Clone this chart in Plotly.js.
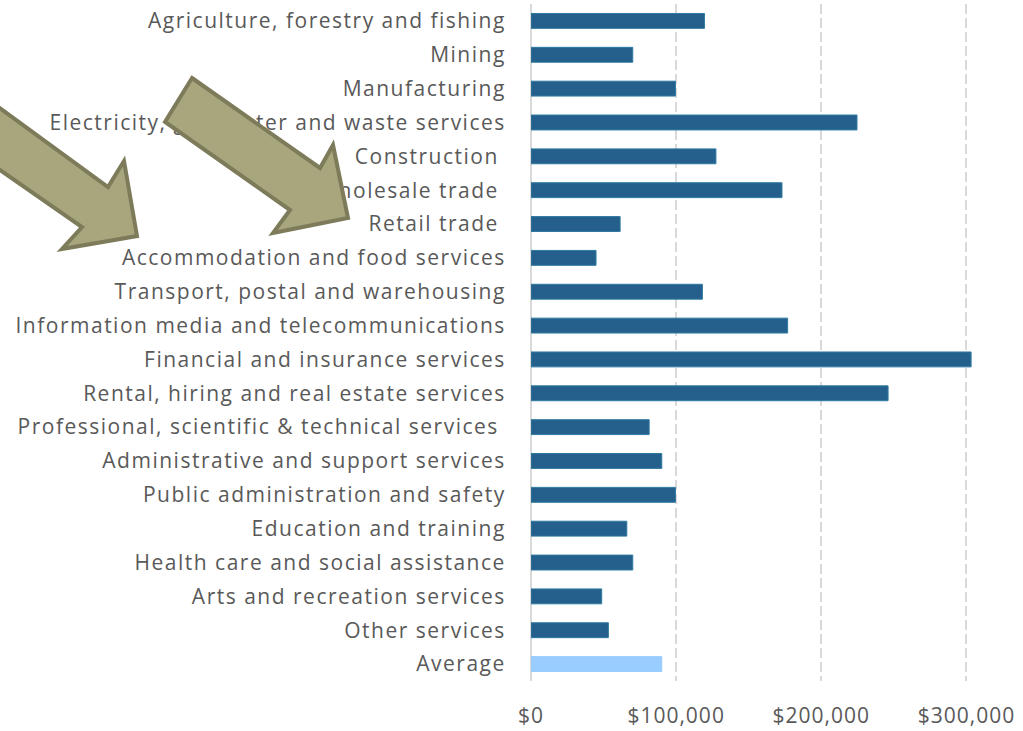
<!DOCTYPE html>
<html>
<head>
<meta charset="utf-8">
<script src="https://cdn.plot.ly/plotly-3.0.1.min.js"></script>
<style>
html,body{margin:0;padding:0;background:#fff}
#chart{width:1023px;height:731px}
#chart .ytick text{letter-spacing:1.5px}
#chart .xtick text{letter-spacing:1px}
</style>
</head>
<body>
<div id="chart"></div>
<script>
// Industry categories (top to bottom)
var industries = [
  "Agriculture, forestry and fishing",
  "Mining",
  "Manufacturing",
  "Electricity, gas, water and waste services",
  "Construction\u00a0",
  "Wholesale trade\u00a0",
  "Retail trade\u00a0",
  "Accommodation and food services",
  "Transport, postal and warehousing",
  "Information media and telecommunications",
  "Financial and insurance services",
  "Rental, hiring and real estate services",
  "Professional, scientific & technical services\u00a0",
  "Administrative and support services",
  "Public administration and safety",
  "Education and training",
  "Health care and social assistance",
  "Arts and recreation services",
  "Other services",
  "Average"
];
// Value per industry ($)
var values = [
  119500, 70100, 99500, 224600, 127400, 172900, 61400, 44800, 118100, 176800,
  303200, 246000, 81400, 90100, 99500, 66000, 70100, 48700, 53300, 90100
];
var xTickValues = [0, 100000, 200000, 300000];
var xTickText = ["$0", "$100,000", "$200,000", "$300,000"];

var W = 1023, H = 731;
var M = {l: 531, r: 13, t: 4, b: 50};

var barColors = industries.map(function (c) { return c === "Average" ? "#99CCFF" : "#25608D"; });
var lineColors = industries.map(function (c) { return c === "Average" ? "#99CCFF" : "#2E7AA0"; });

// Decorative block arrows, outline vertices in page pixels
var arrowLeft = [[-10,101],[108,187],[124,161],[137,236],[62,249],[82,227],[-10,163]];
var arrowRight = [[192,78],[320,168],[333,145],[348,218],[273,233],[290,210],[165,122]];

function toPaperPath(pts) {
  var pw = W - M.l - M.r, ph = H - M.t - M.b;
  return pts.map(function (p, i) {
    var x = (p[0] - M.l) / pw, y = 1 - (p[1] - M.t) / ph;
    return (i === 0 ? "M" : "L") + x.toFixed(5) + "," + y.toFixed(5);
  }).join(" ") + " Z";
}

var arrowStyle = {fillcolor: "#A8A67D", line: {color: "#7D7B5A", width: 4}};

var data = [{
  type: "bar",
  orientation: "h",
  y: industries,
  x: values,
  marker: {color: barColors, line: {color: lineColors, width: 1}},
  hoverinfo: "x+y"
}];

var layout = {
  width: W, height: H,
  margin: M,
  paper_bgcolor: "#ffffff",
  plot_bgcolor: "#ffffff",
  showlegend: false,
  bargap: 0.56,
  font: {family: "'Open Sans', Lato, sans-serif", color: "#595959", size: 21},
  xaxis: {
    range: [0, 330000],
    tickmode: "array",
    tickvals: xTickValues,
    ticktext: xTickText,
    showgrid: true,
    gridcolor: "#D9D9D9",
    griddash: "10px,4px",
    gridwidth: 2,
    zeroline: true,
    zerolinecolor: "#D9D9D9",
    zerolinewidth: 2,
    showline: false,
    ticks: "outside",
    ticklen: 16,
    tickcolor: "rgba(0,0,0,0)",
    tickfont: {size: 21, color: "#595959"}
  },
  yaxis: {
    autorange: "reversed",
    showgrid: false,
    zeroline: false,
    showline: false,
    ticks: "outside",
    ticklen: 20,
    tickcolor: "rgba(0,0,0,0)",
    tickfont: {size: 21, color: "#595959"}
  },
  shapes: [
    Object.assign({type: "path", xref: "paper", yref: "paper", layer: "above", path: toPaperPath(arrowLeft)}, arrowStyle),
    Object.assign({type: "path", xref: "paper", yref: "paper", layer: "above", path: toPaperPath(arrowRight)}, arrowStyle)
  ]
};

Plotly.newPlot("chart", data, layout, {displayModeBar: false, staticPlot: true});
</script>
</body>
</html>
